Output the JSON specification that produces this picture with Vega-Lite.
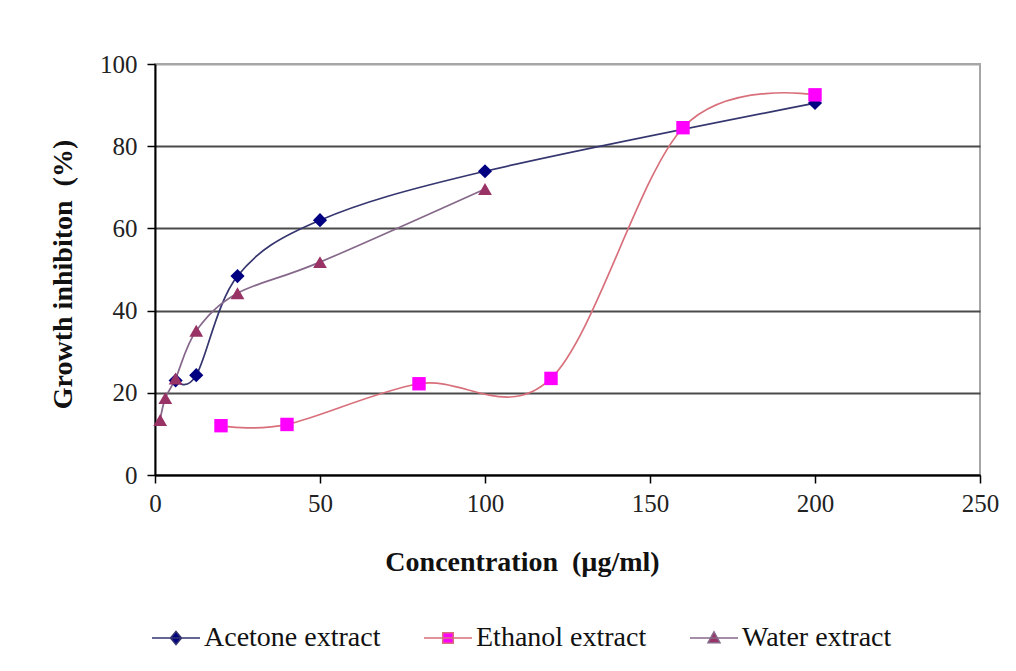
{
  "$schema": "https://vega.github.io/schema/vega-lite/v6.json",
  "width": 825,
  "height": 411,
  "autosize": {"type": "none"},
  "padding": {"left": 155, "top": 64, "right": 36, "bottom": 196},
  "background": "white",
  "config": {
    "view": {"stroke": "#a6a6a6", "strokeWidth": 2},
    "font": "Liberation Serif"
  },
  "data": {
    "values": [
      {"series": "Acetone extract", "conc": 6.25, "inhibition": 23.0},
      {"series": "Acetone extract", "conc": 12.5, "inhibition": 24.3},
      {"series": "Acetone extract", "conc": 25, "inhibition": 48.4},
      {"series": "Acetone extract", "conc": 50, "inhibition": 62.0},
      {"series": "Acetone extract", "conc": 100, "inhibition": 73.9},
      {"series": "Acetone extract", "conc": 200, "inhibition": 90.5},
      {"series": "Ethanol extract", "conc": 20, "inhibition": 12.0},
      {"series": "Ethanol extract", "conc": 40, "inhibition": 12.3},
      {"series": "Ethanol extract", "conc": 80, "inhibition": 22.2},
      {"series": "Ethanol extract", "conc": 120, "inhibition": 23.5},
      {"series": "Ethanol extract", "conc": 160, "inhibition": 84.5},
      {"series": "Ethanol extract", "conc": 200, "inhibition": 92.5},
      {"series": "Water extract", "conc": 1.5625, "inhibition": 13.4},
      {"series": "Water extract", "conc": 3.125, "inhibition": 18.7},
      {"series": "Water extract", "conc": 6.25, "inhibition": 23.5},
      {"series": "Water extract", "conc": 12.5, "inhibition": 35.1},
      {"series": "Water extract", "conc": 25, "inhibition": 44.2},
      {"series": "Water extract", "conc": 50, "inhibition": 51.8},
      {"series": "Water extract", "conc": 100, "inhibition": 69.6}
    ]
  },
  "encoding": {
    "x": {
      "field": "conc",
      "type": "quantitative",
      "scale": {"domain": [0, 250], "nice": false, "zero": false},
      "axis": {
        "title": "Concentration\u00a0 (µg/ml)",
        "values": [0, 50, 100, 150, 200, 250],
        "grid": false,
        "domainColor": "#000000",
        "domainWidth": 2,
        "tickColor": "#000000",
        "tickWidth": 1.5,
        "tickSize": 8,
        "labelFontSize": 25,
        "labelColor": "#222222",
        "labelPadding": 8,
        "labelFlush": false,
        "labelFont": "Liberation Serif",
        "titleFont": "Liberation Serif",
        "titleFontSize": 28,
        "titleFontWeight": "bold",
        "titleColor": "#111111",
        "titlePadding": 32,
        "titleX": 367
      }
    },
    "y": {
      "field": "inhibition",
      "type": "quantitative",
      "scale": {"domain": [0, 100], "nice": false},
      "axis": {
        "title": "Growth inhibiton\u00a0 (%)",
        "values": [0, 20, 40, 60, 80, 100],
        "grid": true,
        "gridColor": {"condition": {"test": "datum.value == 100", "value": "#a6a6a6"}, "value": "#4a4a4a"},
        "gridWidth": 2,
        "domainColor": "#000000",
        "domainWidth": 2,
        "tickColor": "#000000",
        "tickWidth": 1.5,
        "tickSize": 8,
        "labelFontSize": 25,
        "labelColor": "#222222",
        "labelPadding": 10,
        "labelFont": "Liberation Serif",
        "titleFont": "Liberation Serif",
        "titleFontSize": 28,
        "titleFontWeight": "bold",
        "titleColor": "#111111",
        "titlePadding": 22,
        "titleY": 210
      }
    }
  },
  "layer": [
    {
      "mark": {"type": "line", "interpolate": "cardinal", "strokeWidth": 1.7},
      "encoding": {
        "color": {
          "field": "series",
          "type": "nominal",
          "scale": {
            "domain": ["Water extract", "Ethanol extract", "Acetone extract"],
            "range": ["#86688a", "#d8707c", "#35356f"]
          },
          "legend": null
        }
      }
    },
    {
      "transform": [{"filter": "datum.series == 'Acetone extract'"}],
      "mark": {"type": "point", "shape": "diamond", "filled": true, "opacity": 1, "size": 200},
      "encoding": {
        "fill": {
          "field": "series",
          "type": "nominal",
          "scale": {
            "domain": ["Acetone extract", "Ethanol extract", "Water extract"],
            "range": ["#000080", "#ff00ff", "#993366"]
          }
        }
      }
    },
    {
      "transform": [{"filter": "datum.series == 'Ethanol extract'"}],
      "mark": {"type": "point", "shape": "square", "filled": true, "opacity": 1, "size": 180},
      "encoding": {
        "fill": {"field": "series", "type": "nominal"}
      }
    },
    {
      "transform": [{"filter": "datum.series == 'Water extract'"}],
      "mark": {"type": "point", "shape": "triangle-up", "filled": true, "opacity": 1, "size": 190},
      "encoding": {
        "fill": {"field": "series", "type": "nominal"}
      }
    },
    {
      "transform": [{"filter": "datum.conc < 0"}],
      "mark": {"type": "point", "filled": false, "opacity": 1, "strokeWidth": 1.5},
      "encoding": {
        "fill": {"field": "series", "type": "nominal"},
        "stroke": {
          "field": "series",
          "type": "nominal",
          "scale": {
            "domain": ["Acetone extract", "Ethanol extract", "Water extract"],
            "range": ["#35356f", "#d8707c", "#86688a"]
          }
        },
        "shape": {
          "field": "series",
          "type": "nominal",
          "scale": {
            "domain": ["Acetone extract", "Ethanol extract", "Water extract"],
            "range": [
              "M-1,0H1M0,-0.27L0.23,0L0,0.27L-0.23,0Z",
              "M-1,0H1M-0.22,-0.22H0.22V0.22H-0.22Z",
              "M-1,0H1M0,-0.26L0.25,0.2H-0.25Z"
            ]
          },
          "legend": {
            "title": null,
            "orient": "none",
            "legendX": -4,
            "legendY": 549,
            "direction": "horizontal",
            "labelFontSize": 28,
            "labelFont": "Liberation Serif",
            "labelColor": "#111111",
            "labelLimit": 0,
            "symbolSize": 2304,
            "labelOffset": 3,
            "columnPadding": 40,
            "symbolStrokeWidth": 1.5
          }
        }
      }
    }
  ]
}
